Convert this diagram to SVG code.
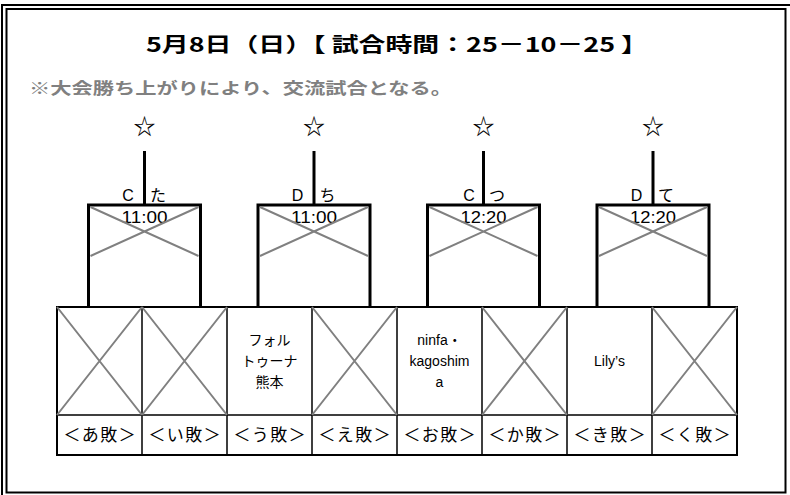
<svg xmlns="http://www.w3.org/2000/svg" width="790" height="495" viewBox="0 0 790 495">
<style>
.t{font-family:"Liberation Sans","Noto Sans CJK JP",sans-serif;fill:#000}
.j{font-family:"Noto Sans CJK JP","Liberation Sans",sans-serif;fill:#000}
.blk{stroke:#000;fill:none}
.x{stroke:#808080;stroke-width:2;fill:none}
.lb{font-family:"Noto Sans CJK JP","Liberation Sans",sans-serif;fill:#000;font-size:17px;text-anchor:middle}
.st{font-family:"Noto Sans CJK JP","DejaVu Sans",sans-serif;fill:#000;font-size:22px;text-anchor:middle}
</style>
<rect x="0" y="0" width="790" height="495" fill="#fff"/>
<g id="frame">
<path d="M2,495 V5 H790" class="blk" stroke-width="2"/>
<rect x="6.5" y="9" width="779" height="483.5" class="blk" stroke-width="2"/>
</g>
<g id="title">
<text x="397" y="52" class="j" font-size="20" font-weight="bold" text-anchor="middle" textLength="502" lengthAdjust="spacingAndGlyphs">5月8日（日）【 試合時間：25－10－25 】</text>
<text x="29" y="94" class="j" font-size="16" font-weight="bold" style="fill:#808080" textLength="423" lengthAdjust="spacingAndGlyphs">※大会勝ち上がりにより、交流試合となる。</text>
</g>
<g id="connectors">
<line x1="144.5" y1="151" x2="144.5" y2="205" class="blk" stroke-width="3"/>
<line x1="314" y1="151" x2="314" y2="205" class="blk" stroke-width="3"/>
<line x1="483.5" y1="151" x2="483.5" y2="205" class="blk" stroke-width="3"/>
<line x1="653" y1="151" x2="653" y2="205" class="blk" stroke-width="3"/>
</g>
<g id="match-ta">
<text x="144.5" y="134" class="st">☆</text>
<text x="128" y="201" class="t" font-size="16" text-anchor="middle">C</text>
<text x="150" y="201" class="j" font-size="16">た</text>
<path d="M88.5,307 V205 H200.5 V307" class="blk" stroke-width="3"/>
<text x="144.5" y="223" class="t" font-size="16" text-anchor="middle" textLength="46" lengthAdjust="spacingAndGlyphs">11:00</text>
<path d="M90.5,207 L198.5,256 M90.5,256 L198.5,207" class="x"/>
</g>
<g id="match-chi">
<text x="314" y="134" class="st">☆</text>
<text x="297.5" y="201" class="t" font-size="16" text-anchor="middle">D</text>
<text x="319.5" y="201" class="j" font-size="16">ち</text>
<path d="M258,307 V205 H370 V307" class="blk" stroke-width="3"/>
<text x="314" y="223" class="t" font-size="16" text-anchor="middle" textLength="46" lengthAdjust="spacingAndGlyphs">11:00</text>
<path d="M260,207 L368,256 M260,256 L368,207" class="x"/>
</g>
<g id="match-tsu">
<text x="483.5" y="134" class="st">☆</text>
<text x="469" y="201" class="t" font-size="16" text-anchor="middle">C</text>
<text x="489" y="201" class="j" font-size="16">つ</text>
<path d="M427.5,307 V205 H539.5 V307" class="blk" stroke-width="3"/>
<text x="483.5" y="223" class="t" font-size="16" text-anchor="middle" textLength="46" lengthAdjust="spacingAndGlyphs">12:20</text>
<path d="M429.5,207 L537.5,256 M429.5,256 L537.5,207" class="x"/>
</g>
<g id="match-te">
<text x="653" y="134" class="st">☆</text>
<text x="636.5" y="201" class="t" font-size="16" text-anchor="middle">D</text>
<text x="658" y="201" class="j" font-size="16">て</text>
<path d="M597,307 V205 H709 V307" class="blk" stroke-width="3"/>
<text x="653" y="223" class="t" font-size="16" text-anchor="middle" textLength="46" lengthAdjust="spacingAndGlyphs">12:20</text>
<path d="M599,207 L707,256 M599,256 L707,207" class="x"/>
</g>
<g id="grid">
<path d="M57,307 H737 M57,415 H737 M142,307 V455 M227,307 V455 M312,307 V455 M397,307 V455 M482,307 V455 M567,307 V455 M652,307 V455" class="blk" stroke-width="1.5"/>
<rect x="57" y="307" width="680" height="148" class="blk" stroke-width="2"/>
</g>
<g id="slot-a">
<path d="M57,307 L142,415 M57,415 L142,307" class="x"/>
<text x="99.5" y="441" class="lb" textLength="72" lengthAdjust="spacing">＜あ敗＞</text>
</g>
<g id="slot-i">
<path d="M142,307 L227,415 M142,415 L227,307" class="x"/>
<text x="184.5" y="441" class="lb" textLength="72" lengthAdjust="spacing">＜い敗＞</text>
</g>
<g id="slot-u">
<text x="269.5" y="345" class="j" font-size="14" text-anchor="middle">フォル</text>
<text x="269.5" y="366" class="j" font-size="14" text-anchor="middle">トゥーナ</text>
<text x="269.5" y="387" class="j" font-size="14" text-anchor="middle">熊本</text>
<text x="269.5" y="441" class="lb" textLength="72" lengthAdjust="spacing">＜う敗＞</text>
</g>
<g id="slot-e">
<path d="M312,307 L397,415 M312,415 L397,307" class="x"/>
<text x="354.5" y="441" class="lb" textLength="72" lengthAdjust="spacing">＜え敗＞</text>
</g>
<g id="slot-o">
<text x="439.5" y="345" class="t" font-size="14" text-anchor="middle">ninfa・</text>
<text x="439.5" y="366" class="t" font-size="14" text-anchor="middle">kagoshim</text>
<text x="439.5" y="387" class="t" font-size="14" text-anchor="middle">a</text>
<text x="439.5" y="441" class="lb" textLength="72" lengthAdjust="spacing">＜お敗＞</text>
</g>
<g id="slot-ka">
<path d="M482,307 L567,415 M482,415 L567,307" class="x"/>
<text x="524.5" y="441" class="lb" textLength="72" lengthAdjust="spacing">＜か敗＞</text>
</g>
<g id="slot-ki">
<text x="609.5" y="366" class="t" font-size="14" text-anchor="middle">Lily’s</text>
<text x="609.5" y="441" class="lb" textLength="72" lengthAdjust="spacing">＜き敗＞</text>
</g>
<g id="slot-ku">
<path d="M652,307 L737,415 M652,415 L737,307" class="x"/>
<text x="694.5" y="441" class="lb" textLength="72" lengthAdjust="spacing">＜く敗＞</text>
</g>
</svg>
